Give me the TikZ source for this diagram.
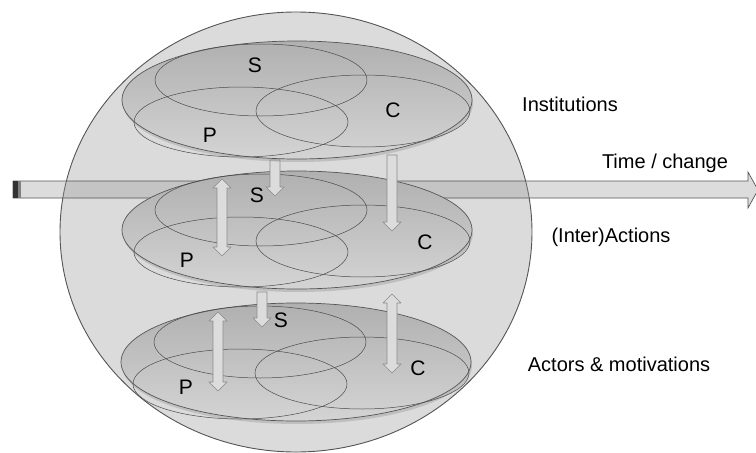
\documentclass[tikz,border=0pt]{standalone}
\usepackage{fontspec}
\setmainfont{Liberation Sans}
\usetikzlibrary{shadows}
\definecolor{circfill}{HTML}{DBDBDB}
\definecolor{edge}{HTML}{555555}
\definecolor{laytop}{HTML}{B0B0B0}
\definecolor{laybot}{HTML}{D4D4D4}
\definecolor{inner}{HTML}{4A4A4A}
\definecolor{arrfill}{HTML}{DCDCDC}
\definecolor{arredge}{HTML}{8A8A8A}
\definecolor{timefill}{HTML}{9B9B9B}
\tikzset{
  layer/.style={draw=edge, line width=0.7pt, top color=laytop, bottom color=laybot,
    drop shadow={opacity=0.3, shadow xshift=1pt, shadow yshift=-3pt}},
  setline/.style={draw=inner, line width=0.5pt},
  blk/.style={fill=arrfill, draw=arredge, line width=0.6pt, line join=round},
  lbl/.style={font=\fontsize{21}{25}\selectfont, text=black},
  side/.style={font=\fontsize{20}{24}\selectfont, text=black}
}
% down block arrow: x, ytop, ytip
\newcommand{\blkdown}[3]{%
  \draw[blk] ({#1-5},{#2}) -- ({#1+5},{#2}) -- ({#1+5},{#3-9}) -- ({#1+9},{#3-9})
    -- ({#1},{#3}) -- ({#1-9},{#3-9}) -- ({#1-5},{#3-9}) -- cycle;}
% double block arrow: x, ytop, ybottom
\newcommand{\blkdouble}[3]{%
  \draw[blk] ({#1},{#2}) -- ({#1+9},{#2+9}) -- ({#1+5},{#2+9}) -- ({#1+5},{#3-9})
    -- ({#1+9},{#3-9}) -- ({#1},{#3}) -- ({#1-9},{#3-9}) -- ({#1-5},{#3-9})
    -- ({#1-5},{#2+9}) -- ({#1-9},{#2+9}) -- cycle;}
% layer: cx, cy
\newcommand{\layerset}[2]{%
  \path[layer] (#1,#2) ellipse [x radius=175, y radius=59];
  \draw[setline] ({#1-36},{#2-20}) ellipse [x radius=106, y radius=36];
  \draw[setline] ({#1-56},{#2+22}) ellipse [x radius=107, y radius=35];
  \draw[setline] ({#1+66},{#2+11}) ellipse [x radius=107, y radius=36];}
\begin{document}
\begin{tikzpicture}[x=1pt, y=-1pt]
\useasboundingbox (0,0) rectangle (756,453);
\clip (0,0) rectangle (756,453);
% big circle
\draw[fill=circfill, draw=edge, line width=0.9pt] (296,232) ellipse [x radius=236, y radius=220];
% time arrow
\draw[fill=timefill, fill opacity=0.35, draw=edge, line width=0.7pt]
  (13,181) -- (748,181) -- (748,172) -- (758,190) -- (748,208) -- (748,198) -- (13,198) -- cycle;
\fill[black!80] (13.3,181.4) rectangle (17.5,197.6);
\fill[black!50] (17.5,181.4) rectangle (20.5,197.6);
% bottom layer
\layerset{296}{362}
\node[lbl] (s3) at (281,320) {S};
\node[lbl] (c3) at (418,368) {C};
\node[lbl] (p3) at (186,387) {P};
\blkdown{262}{292}{327}
\blkdouble{218}{312}{391}
\blkdouble{392}{294}{373}
% middle layer
\layerset{297}{230}
\node[lbl] (s2) at (257,195) {S};
\node[lbl] (c2) at (425,242) {C};
\node[lbl] (p2) at (187,260) {P};
\blkdown{275}{160}{196}
\blkdouble{222}{179}{256}
\blkdown{392}{155}{231}
% top layer
\layerset{297}{100}
\node[lbl] (s1) at (255,65) {S};
\node[lbl] (c1) at (393,110) {C};
\node[lbl] (p1) at (210,135) {P};
% side labels
\node[side] (inst) at (570,104) {Institutions};
\node[side] (time) at (665,163) {Time / change};
\node[side] (inter) at (611,237) {(Inter)Actions};
\node[side] (act) at (619,364) {Actors \& motivations};
\end{tikzpicture}
\end{document}
